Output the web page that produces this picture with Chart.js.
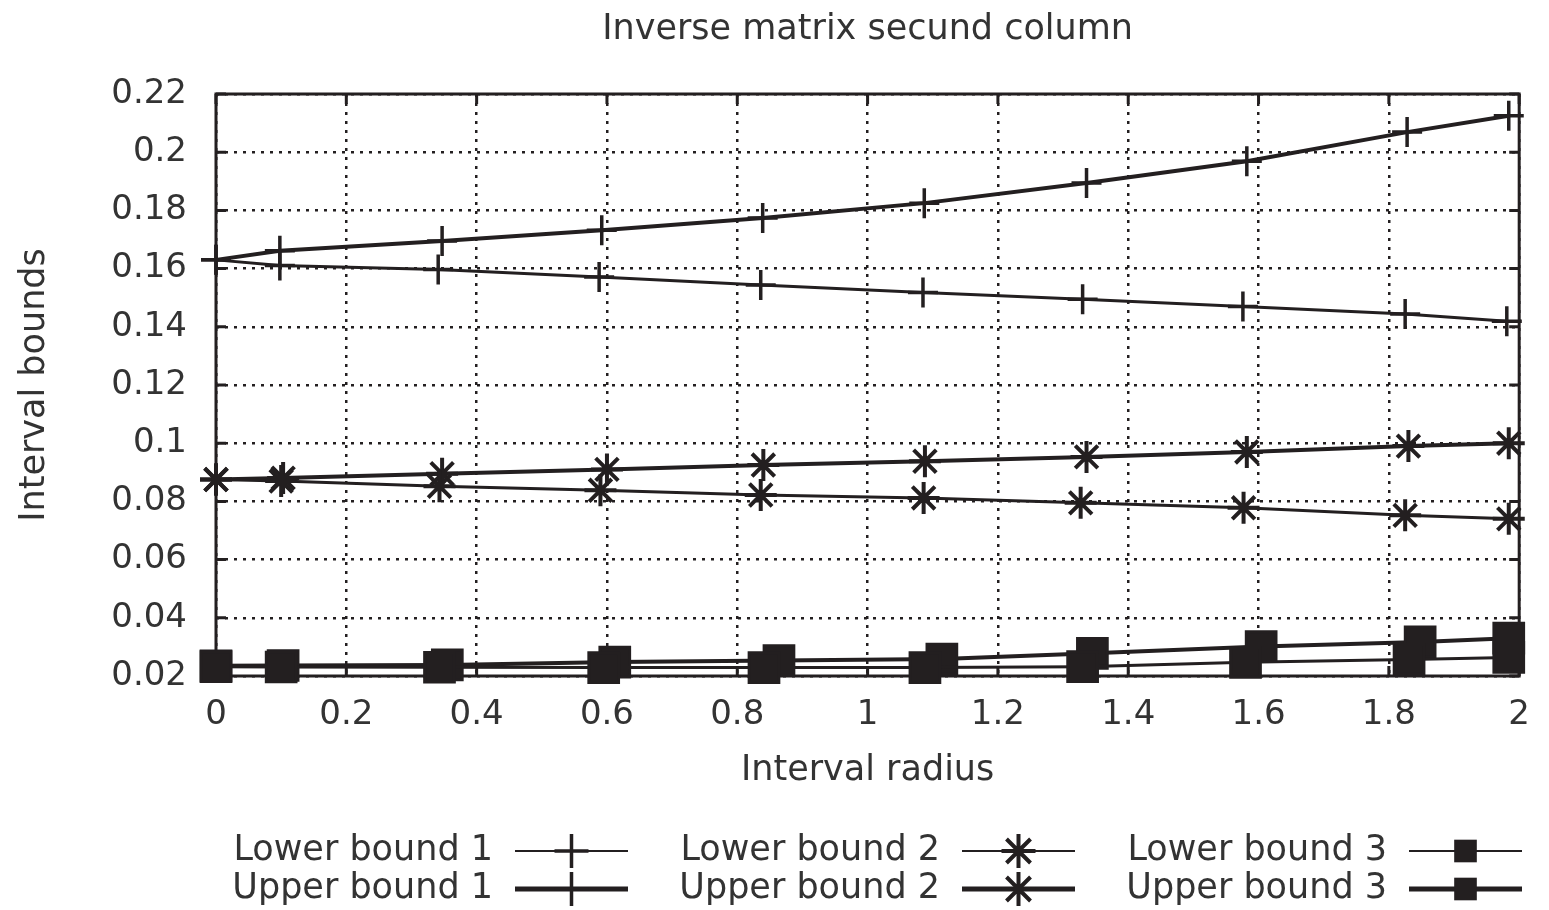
<!DOCTYPE html>
<html>
<head>
<meta charset="utf-8">
<script src="https://cdn.jsdelivr.net/npm/chart.js@4/dist/chart.umd.min.js"></script>
<style>
  html, body { margin: 0; padding: 0; background: #ffffff; }
  #wrap { width: 1549px; height: 910px; }
</style>
</head>
<body>
<div id="wrap"><canvas id="c" width="1549" height="910"></canvas></div>
<script>
// ---- data ----
const chartTitle = 'Inverse matrix secund column';
const xTitle = 'Interval radius';
const yTitle = 'Interval bounds';
const xTickValues = [0, 0.2, 0.4, 0.6, 0.8, 1, 1.2, 1.4, 1.6, 1.8, 2];
const yTickValues = [0.02, 0.04, 0.06, 0.08, 0.1, 0.12, 0.14, 0.16, 0.18, 0.2, 0.22];
const seriesLabels = ['Lower bound 1', 'Upper bound 1', 'Lower bound 2', 'Upper bound 2', 'Lower bound 3', 'Upper bound 3'];

const lower1X = [0, 0.098, 0.341, 0.588, 0.836, 1.085, 1.330, 1.576, 1.825, 1.981];
const lower1Y = [0.1630, 0.1611, 0.1597, 0.1571, 0.1544, 0.1518, 0.1495, 0.1470, 0.1444, 0.1419];
const upper1X = [0, 0.098, 0.347, 0.592, 0.839, 1.087, 1.336, 1.582, 1.828, 1.984];
const upper1Y = [0.1630, 0.1661, 0.1695, 0.1732, 0.1774, 0.1825, 0.1894, 0.1969, 0.2069, 0.2125];

const lower2X = [0, 0.100, 0.343, 0.590, 0.836, 1.086, 1.327, 1.577, 1.825, 1.984];
const lower2Y = [0.0875, 0.0870, 0.0852, 0.0838, 0.0822, 0.0812, 0.0795, 0.0778, 0.0752, 0.0740];
const upper2X = [0, 0.103, 0.347, 0.600, 0.840, 1.088, 1.336, 1.582, 1.830, 1.984];
const upper2Y = [0.0875, 0.0880, 0.0895, 0.0910, 0.0925, 0.0938, 0.0953, 0.0970, 0.0990, 0.1000];

const lower3X = [0, 0.100, 0.343, 0.595, 0.841, 1.088, 1.330, 1.580, 1.831, 1.984];
const lower3Y = [0.0232, 0.0231, 0.0230, 0.0229, 0.0229, 0.0229, 0.0232, 0.0247, 0.0257, 0.0264];
const upper3X = [0, 0.103, 0.355, 0.612, 0.864, 1.114, 1.345, 1.604, 1.848, 1.984];
const upper3Y = [0.0235, 0.0236, 0.0238, 0.0248, 0.0253, 0.0258, 0.0278, 0.0301, 0.0317, 0.0330];

// ---- styling ----
const FONT = '"DejaVu Sans", sans-serif';
const INK = '#231f20';
const TEXT = '#333333';
const TXT_SIZE = 35;
const TICK_SIZE = 34;

function toPoints(xs, ys) { return xs.map((x, i) => ({ x: x, y: ys[i] })); }

function makeSet(label, xs, ys, style, radius, lineW, markW, legendRadius, legendLineW) {
  return {
    label: label,
    data: toPoints(xs, ys),
    borderColor: INK,
    backgroundColor: INK,
    borderWidth: lineW,
    pointStyle: style,
    pointRadius: radius,
    pointHoverRadius: radius,
    pointBorderWidth: markW,
    pointBackgroundColor: INK,
    pointBorderColor: INK,
    tension: 0,
    fill: false,
    clip: false,
    legendRadius: legendRadius,
    legendLineW: legendLineW,
    legendMarkW: markW
  };
}

const datasets = [
  makeSet(seriesLabels[0], lower1X, lower1Y, 'cross', 15, 3, 3.5, 17, 2.2),
  makeSet(seriesLabels[1], upper1X, upper1Y, 'cross', 15, 4, 3.5, 17, 5),
  makeSet(seriesLabels[2], lower2X, lower2Y, 'star', 16, 3, 4, 17, 2.2),
  makeSet(seriesLabels[3], upper2X, upper2Y, 'star', 16, 4, 4, 17, 5),
  makeSet(seriesLabels[4], lower3X, lower3Y, 'rect', 21, 3, 3, 16, 2.2),
  makeSet(seriesLabels[5], upper3X, upper3Y, 'rect', 21, 4, 3, 16, 5)
];

function fmt(v) { return String(Number(v.toFixed(2))); }

// frame with solid border and inward tick marks (gnuplot style)
const framePlugin = {
  id: 'frame',
  beforeDatasetsDraw(chart) {
    const { ctx, chartArea: a, scales } = chart;
    ctx.save();
    ctx.strokeStyle = INK;
    ctx.lineWidth = 3;
    ctx.strokeRect(a.left, a.top, a.right - a.left, a.bottom - a.top);
    const tl = 10;
    ctx.beginPath();
    scales.x.ticks.forEach(t => {
      const px = scales.x.getPixelForValue(t.value);
      ctx.moveTo(px, a.bottom); ctx.lineTo(px, a.bottom - tl);
      ctx.moveTo(px, a.top); ctx.lineTo(px, a.top + tl);
    });
    scales.y.ticks.forEach(t => {
      const py = scales.y.getPixelForValue(t.value);
      ctx.moveTo(a.left, py); ctx.lineTo(a.left + tl, py);
      ctx.moveTo(a.right, py); ctx.lineTo(a.right - tl, py);
    });
    ctx.stroke();
    ctx.restore();
  }
};

// gnuplot-like key: text, then line sample with marker
function drawMarker(ctx, style, x, y, r) {
  ctx.beginPath();
  if (style === 'cross') {
    ctx.moveTo(x - r, y); ctx.lineTo(x + r, y);
    ctx.moveTo(x, y - r); ctx.lineTo(x, y + r);
    ctx.stroke();
  } else if (style === 'star') {
    ctx.moveTo(x - r, y); ctx.lineTo(x + r, y);
    ctx.moveTo(x, y - r); ctx.lineTo(x, y + r);
    const d = r * Math.SQRT1_2;
    ctx.moveTo(x - d, y - d); ctx.lineTo(x + d, y + d);
    ctx.moveTo(x - d, y + d); ctx.lineTo(x + d, y - d);
    ctx.stroke();
  } else {
    const s = r * Math.SQRT1_2;
    ctx.fillRect(x - s, y - s, 2 * s, 2 * s);
  }
}

const keyPlugin = {
  id: 'gnukey',
  afterDraw(chart) {
    const ctx = chart.ctx;
    const textRight = [493, 940, 1387];
    const rowY = [851, 889];
    ctx.save();
    ctx.font = TXT_SIZE + 'px ' + FONT;
    ctx.textAlign = 'right';
    ctx.textBaseline = 'middle';
    chart.data.datasets.forEach((ds, i) => {
      const col = Math.floor(i / 2);
      const row = i % 2;
      const tx = textRight[col];
      const ty = rowY[row];
      ctx.fillStyle = TEXT;
      ctx.fillText(ds.label, tx, ty);
      const x0 = tx + 22, x1 = tx + 135, xm = (x0 + x1) / 2;
      ctx.strokeStyle = INK;
      ctx.fillStyle = INK;
      ctx.lineWidth = ds.legendLineW;
      ctx.beginPath();
      ctx.moveTo(x0, ty); ctx.lineTo(x1, ty);
      ctx.stroke();
      ctx.lineWidth = ds.legendMarkW;
      drawMarker(ctx, ds.pointStyle, xm, ty, ds.legendRadius);
    });
    ctx.restore();
  }
};

new Chart(document.getElementById('c'), {
  type: 'line',
  data: { datasets: datasets },
  plugins: [framePlugin, keyPlugin],
  options: {
    responsive: false,
    animation: false,
    events: [],
    layout: { padding: { left: 0, right: 17, top: 0, bottom: 114 } },
    plugins: {
      legend: { display: false },
      tooltip: { enabled: false },
      title: {
        display: true,
        text: chartTitle,
        fullSize: false,
        color: TEXT,
        font: { family: FONT, size: TXT_SIZE, weight: 'normal' },
        padding: { top: 9, bottom: 43 }
      }
    },
    scales: {
      x: {
        type: 'linear',
        min: 0,
        max: 2,
        afterBuildTicks: (s) => { s.ticks = xTickValues.map(v => ({ value: v })); },
        afterFit: (s) => { s.height = 120; },
        ticks: {
          color: TEXT,
          font: { family: FONT, size: TICK_SIZE },
          padding: 19,
          maxRotation: 0,
          autoSkip: false,
          callback: (v) => fmt(v)
        },
        grid: {
          color: INK,
          lineWidth: 2.5,
          drawTicks: false
        },
        border: { display: false, dash: [3, 6] },
        title: {
          display: true,
          text: xTitle,
          color: TEXT,
          font: { family: FONT, size: TXT_SIZE },
          padding: { top: 0, bottom: 4 }
        }
      },
      y: {
        type: 'linear',
        min: 0.02,
        max: 0.22,
        afterBuildTicks: (s) => { s.ticks = yTickValues.map(v => ({ value: v })); },
        afterFit: (s) => { s.width = 216; },
        ticks: {
          color: TEXT,
          font: { family: FONT, size: TICK_SIZE },
          padding: 29,
          autoSkip: false,
          callback: (v) => fmt(v)
        },
        grid: {
          color: INK,
          lineWidth: 2.5,
          drawTicks: false
        },
        border: { display: false, dash: [3, 6] },
        title: {
          display: true,
          text: yTitle,
          color: TEXT,
          font: { family: FONT, size: TXT_SIZE },
          padding: { top: 14, bottom: 0 }
        }
      }
    }
  }
});
</script>
</body>
</html>
